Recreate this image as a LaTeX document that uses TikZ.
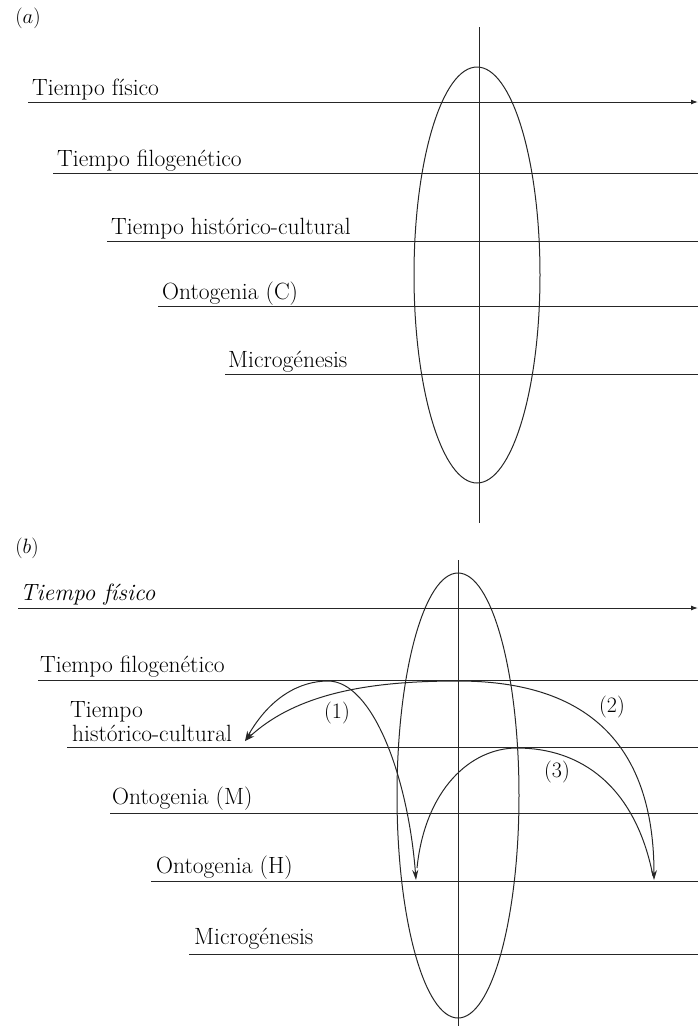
\documentclass[tikz,border=0pt]{standalone}
\usetikzlibrary{arrows.meta}
\begin{document}
\begin{tikzpicture}[x=1pt,y=-1pt,
  tline/.style={line width=1pt,draw=black!85},
  axisarrow/.style={tline,-{Latex[length=7pt,width=5pt]}},
  curvearrow/.style={line width=1pt,draw=black!85,>={Stealth[length=10pt,width=6pt]}},
  lbl/.style={anchor=base west,inner sep=0pt,font=\fontsize{23.5}{27}\selectfont},
  num/.style={inner sep=0pt,font=\fontsize{22}{26}\selectfont},
  panel/.style={inner sep=0pt,font=\fontsize{22}{26}\selectfont}]
\useasboundingbox (0,0) rectangle (698,1026);

% ---------------- Panel (a) ----------------
\node[panel] (pa) at (28,18) {$(a)$};
\coordinate (a1s) at (28,102);  \coordinate (a1e) at (698,102);
\coordinate (a2s) at (53,173);  \coordinate (a2e) at (698,173);
\coordinate (a3s) at (107,241); \coordinate (a3e) at (698,241);
\coordinate (a4s) at (158,306); \coordinate (a4e) at (698,306);
\coordinate (a5s) at (225,374); \coordinate (a5e) at (698,374);
\draw[axisarrow] (a1s) -- (a1e);
\draw[tline] (a2s) -- (a2e);
\draw[tline] (a3s) -- (a3e);
\draw[tline] (a4s) -- (a4e);
\draw[tline] (a5s) -- (a5e);
\node[lbl] (ta1) at (32,95) {Tiempo físico};
\node[lbl] (ta2) at (57,166) {Tiempo filogenético};
\node[lbl] (ta3) at (111,234) {Tiempo histórico-cultural};
\node[lbl] (ta4) at (162,299) {Ontogenia (C)};
\node[lbl] (ta5) at (228,367) {Microgénesis};
\coordinate (avt) at (479,27); \coordinate (avb) at (479,523);
\draw[tline] (avt) -- (avb);
\draw[tline] (477,275) ellipse [x radius=63, y radius=208];

% ---------------- Panel (b) ----------------
\node[panel] (pb) at (27,548) {$(b)$};
\coordinate (b1s) at (18,608);  \coordinate (b1e) at (698,608);
\coordinate (b2s) at (38,680);  \coordinate (b2e) at (698,680);
\coordinate (b3s) at (67,747);  \coordinate (b3e) at (698,747);
\coordinate (b4s) at (110,813); \coordinate (b4e) at (698,813);
\coordinate (b5s) at (151,881); \coordinate (b5e) at (698,881);
\coordinate (b6s) at (189,954); \coordinate (b6e) at (698,954);
\draw[axisarrow] (b1s) -- (b1e);
\draw[tline] (b2s) -- (b2e);
\draw[tline] (b3s) -- (b3e);
\draw[tline] (b4s) -- (b4e);
\draw[tline] (b5s) -- (b5e);
\draw[tline] (b6s) -- (b6e);
\node[lbl] (tb1) at (20,600) {\itshape Tiempo físico};
\node[lbl] (tb2) at (40,672) {Tiempo filogenético};
\node[lbl] (tb3a) at (70,717) {Tiempo};
\node[lbl] (tb3b) at (72,741) {histórico-cultural};
\node[lbl] (tb4) at (112,804) {Ontogenia (M)};
\node[lbl] (tb5) at (156,873) {Ontogenia (H)};
\node[lbl] (tb6) at (194,944) {Microgénesis};
\coordinate (bvt) at (458,560); \coordinate (bvb) at (458,1026);
\draw[tline] (bvt) -- (bvb);
\draw[tline] (458,795.5) ellipse [x radius=61, y radius=222.5];

% curved arrows
\coordinate (hc) at (245,741);
\coordinate (p1) at (328,681);
\coordinate (oh1) at (416,880);
\coordinate (p2) at (458,681);
\coordinate (oh2) at (654,880);
\coordinate (s3) at (417,868);
\coordinate (p3) at (517,748);
\coordinate (e3) at (653,876);
\draw[curvearrow,<->] (hc) .. controls (270,697) and (300,681) .. (p1)
   .. controls (372,681) and (408,775) .. (oh1);
\draw[curvearrow,<->] (hc) .. controls (300,690) and (380,681) .. (p2)
   .. controls (560,681) and (654,720) .. (oh2);
\draw[curvearrow] (s3) .. controls (425,790) and (470,748) .. (p3)
   .. controls (580,748) and (635,785) .. (e3);
\node[num] (n1) at (337,713) {(1)};
\node[num] (n2) at (612,707) {(2)};
\node[num] (n3) at (557,772) {(3)};
\end{tikzpicture}
\end{document}
